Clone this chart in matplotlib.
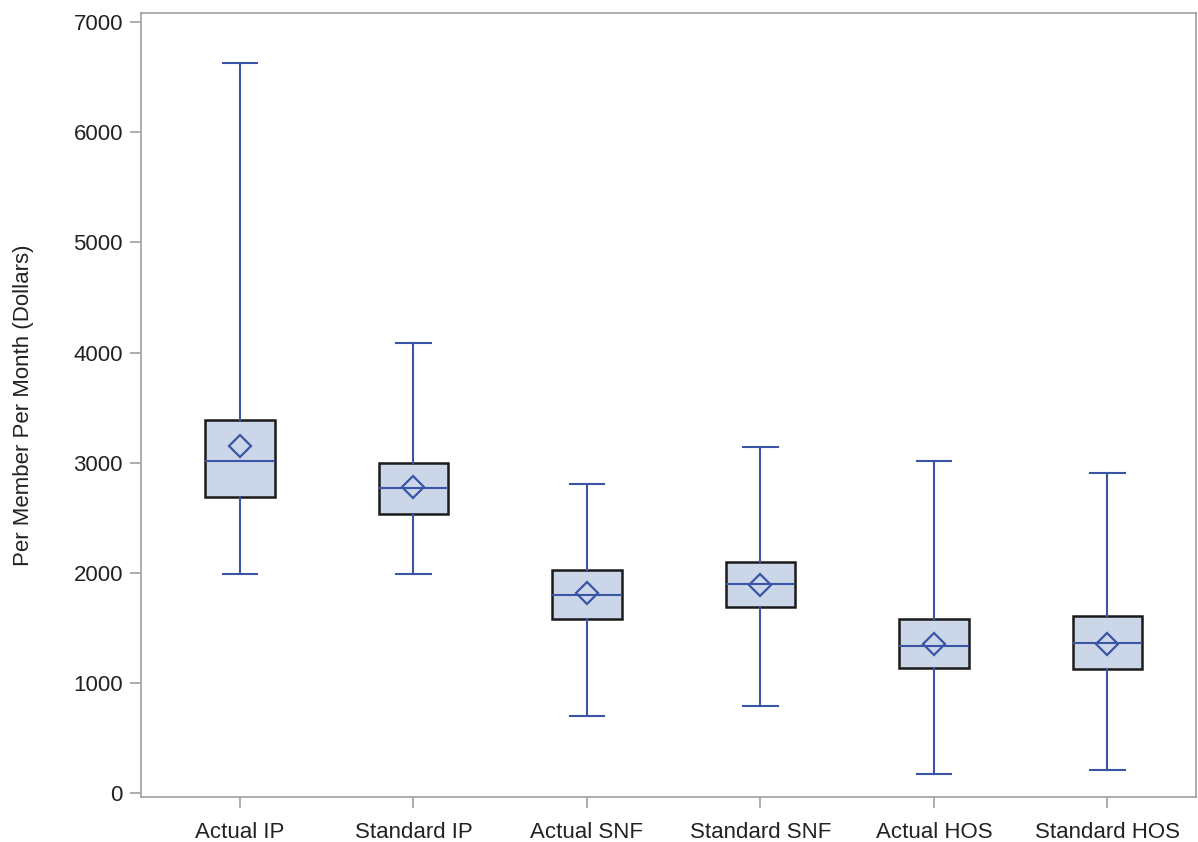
import matplotlib
matplotlib.use("Agg")
import matplotlib.pyplot as plt

labels = ["Actual IP", "Standard IP", "Actual SNF", "Standard SNF", "Actual HOS", "Standard HOS"]
whislo = [1991, 1991, 702, 790, 175, 209]
q1 = [2690, 2536, 1583, 1692, 1138, 1123]
med = [3012, 2769, 1798, 1900, 1335, 1359]
q3 = [3384, 2996, 2022, 2095, 1583, 1604]
whishi = [6631, 4086, 2803, 3139, 3012, 2906]
mean = [3153, 2781, 1813, 1889, 1356, 1356]

plt.rcParams['font.family'] = ['Liberation Sans', 'DejaVu Sans']

blue = "#3a55a6"
fill = "#cbd6e8"
grey = "#a0a0a0"

stats = []
for i in range(len(labels)):
	stats.append({"label": labels[i], "whislo": whislo[i], "q1": q1[i], "med": med[i],
		"q3": q3[i], "whishi": whishi[i], "mean": mean[i], "fliers": []})

fig = plt.figure(figsize=(11.98, 8.42), dpi=100)
ax = fig.add_axes([0.1177, 0.0534, 0.8806, 0.9312])

ax.bxp(stats, positions=range(len(labels)), widths=0.40, patch_artist=True,
	showmeans=True, showcaps=True,
	boxprops=dict(facecolor=fill, edgecolor="#1a1a1a", linewidth=1.8),
	medianprops=dict(color=blue, linewidth=1.5),
	whiskerprops=dict(color=blue, linewidth=1.5),
	capprops=dict(color=blue, linewidth=1.5),
	meanprops=dict(marker="D", markersize=11, markerfacecolor="none",
		markeredgecolor=blue, markeredgewidth=1.6))

ax.set_xlim(-0.57, 5.51)
ax.set_ylim(-36, 7084)
ax.set_yticks(range(0, 7001, 1000))
ax.set_xticks(range(len(labels)))
ax.set_xticklabels(labels)
ax.set_ylabel("Per Member Per Month (Dollars)", fontsize=16, color="#222222", labelpad=28)

for s in ax.spines.values():
	s.set_color(grey)
	s.set_linewidth(1.2)
ax.tick_params(axis="both", colors=grey, labelcolor="#222222", labelsize=16, length=8, width=1.2)
ax.tick_params(axis="x", pad=10)
ax.tick_params(axis="y", pad=5)

fig.savefig("out.png", dpi=100)
